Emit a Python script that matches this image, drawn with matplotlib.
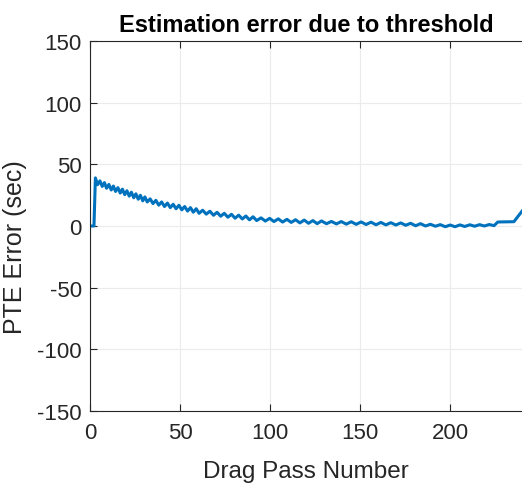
import matplotlib
matplotlib.use("Agg")
import matplotlib.pyplot as plt

# vertices (pass number, PTE error in sec)
pass_num = [0, 2.2, 3, 4.2, 5.5, 6.8, 8, 9.2, 10.5, 11.8, 13, 14.2, 15.5, 16.8, 18, 19.3, 20.5,
            21.8, 23, 24.3, 25.5, 26.8, 28, 29.3, 30.5, 31.8,
            33.4, 35, 36.6, 38.2, 39.8, 41.4, 43, 44.6, 46.2, 47.8, 49.4, 51, 52.6, 54.2, 55.8,
            57.4, 59, 60.6,
            62.6, 64.6, 66.6, 68.6, 70.6, 72.6, 74.6, 76.6, 78.6, 80.6, 82.6, 84.6, 86.6, 88.6,
            90.6, 92.6,
            95, 97.4, 99.8, 102.2, 104.6, 107, 109.4, 111.8, 114.2, 116.6, 119, 121.4, 123.8,
            126.2, 128.6,
            131.4, 134.1, 136.9, 139.6, 142.4, 145.1, 147.9, 150.6, 153.4, 156.1, 158.9, 161.6,
            164.4, 167.1, 169.9, 172.6, 175.4,
            178.1, 180.9, 183.6, 186.4, 189.1, 191.9, 194.6, 197.4, 200.1, 202.8, 205.5, 208.2,
            211, 213.7, 216.4, 219.1, 221.8, 224.5, 226.5, 228, 232, 235.5, 240]
pte_error = [0, 0, 39, 33.5, 36.6, 32.1, 35.2, 30.6, 33.7, 29.2, 32.4, 28, 31.1, 26.7, 29.9, 25.4, 28.6,
             24.2, 27.4, 22.9, 26.1, 21.7, 24.9, 20.4, 23.6, 19.5,
             22, 18.2, 20.8, 16.9, 19.5, 15.8, 18.6, 14.9, 17.6, 14, 16.8, 13.1, 15.8, 12.1, 14.9,
             11.2, 14, 10.3,
             12.8, 9.6, 12, 8.7, 11.1, 7.9, 10.3, 7.1, 9.5, 6.3, 8.8, 5.7, 8.1, 5,
             7.5, 4.4,
             6.6, 4, 6.2, 3.6, 5.8, 3.2, 5.4, 2.9, 5.1, 2.5, 4.8, 2.2, 4.4,
             1.9, 4.1,
             1.85, 3.7, 1.7, 3.6, 1.5, 3.45, 1.35, 3.3, 1.2, 3.1, 1, 2.9,
             0.9, 2.7, 0.8, 2.5, 0.6,
             2.2, 0.2, 1.9, 0, 1.4, -0.2, 1.1, -0.6, 0.8, -0.6, 0.9, -0.4,
             1, -0.2, 1.1, 0, 1.2, 0.3, 3.2, 3.3, 3.4, 3.5, 12]

x_ticks = [0, 50, 100, 150, 200]
y_ticks = [-150, -100, -50, 0, 50, 100, 150]

plt.rcParams['font.family'] = ['Liberation Sans', 'DejaVu Sans']
plt.rcParams['axes.unicode_minus'] = False

fig = plt.figure(figsize=(5.22, 4.85), dpi=100)
ax = fig.add_axes([90/522, 1-412/485, 1-90/522, (412-42)/485])

ax.plot(pass_num, pte_error, color='#0072BD', linewidth=2.2)

ax.set_xlim(0, 240)
ax.set_ylim(-150, 150)
ax.set_xticks(x_ticks)
ax.set_yticks(y_ticks)
ax.grid(True, color='#ebebeb', linewidth=0.8)
ax.set_axisbelow(True)

for s in ['left', 'bottom', 'top']:
    ax.spines[s].set_color('#262626')
    ax.spines[s].set_linewidth(0.8)
ax.spines['right'].set_visible(False)

ax.tick_params(axis='both', direction='in', length=5, width=0.8, color='#262626',
               labelsize=16, labelcolor='#262626', top=True)
ax.tick_params(axis='x', pad=8)
ax.tick_params(axis='y', pad=6)

ax.set_xlabel('Drag Pass Number', fontsize=17.5, color='#262626', labelpad=12)
ax.set_ylabel('PTE Error (sec)', fontsize=18, color='#262626', labelpad=4)
ax.yaxis.set_label_coords(-0.145, 0.446)
ax.set_title('Estimation error due to threshold', fontsize=17, fontweight='bold', pad=7)

fig.savefig('out.png', dpi=100)
